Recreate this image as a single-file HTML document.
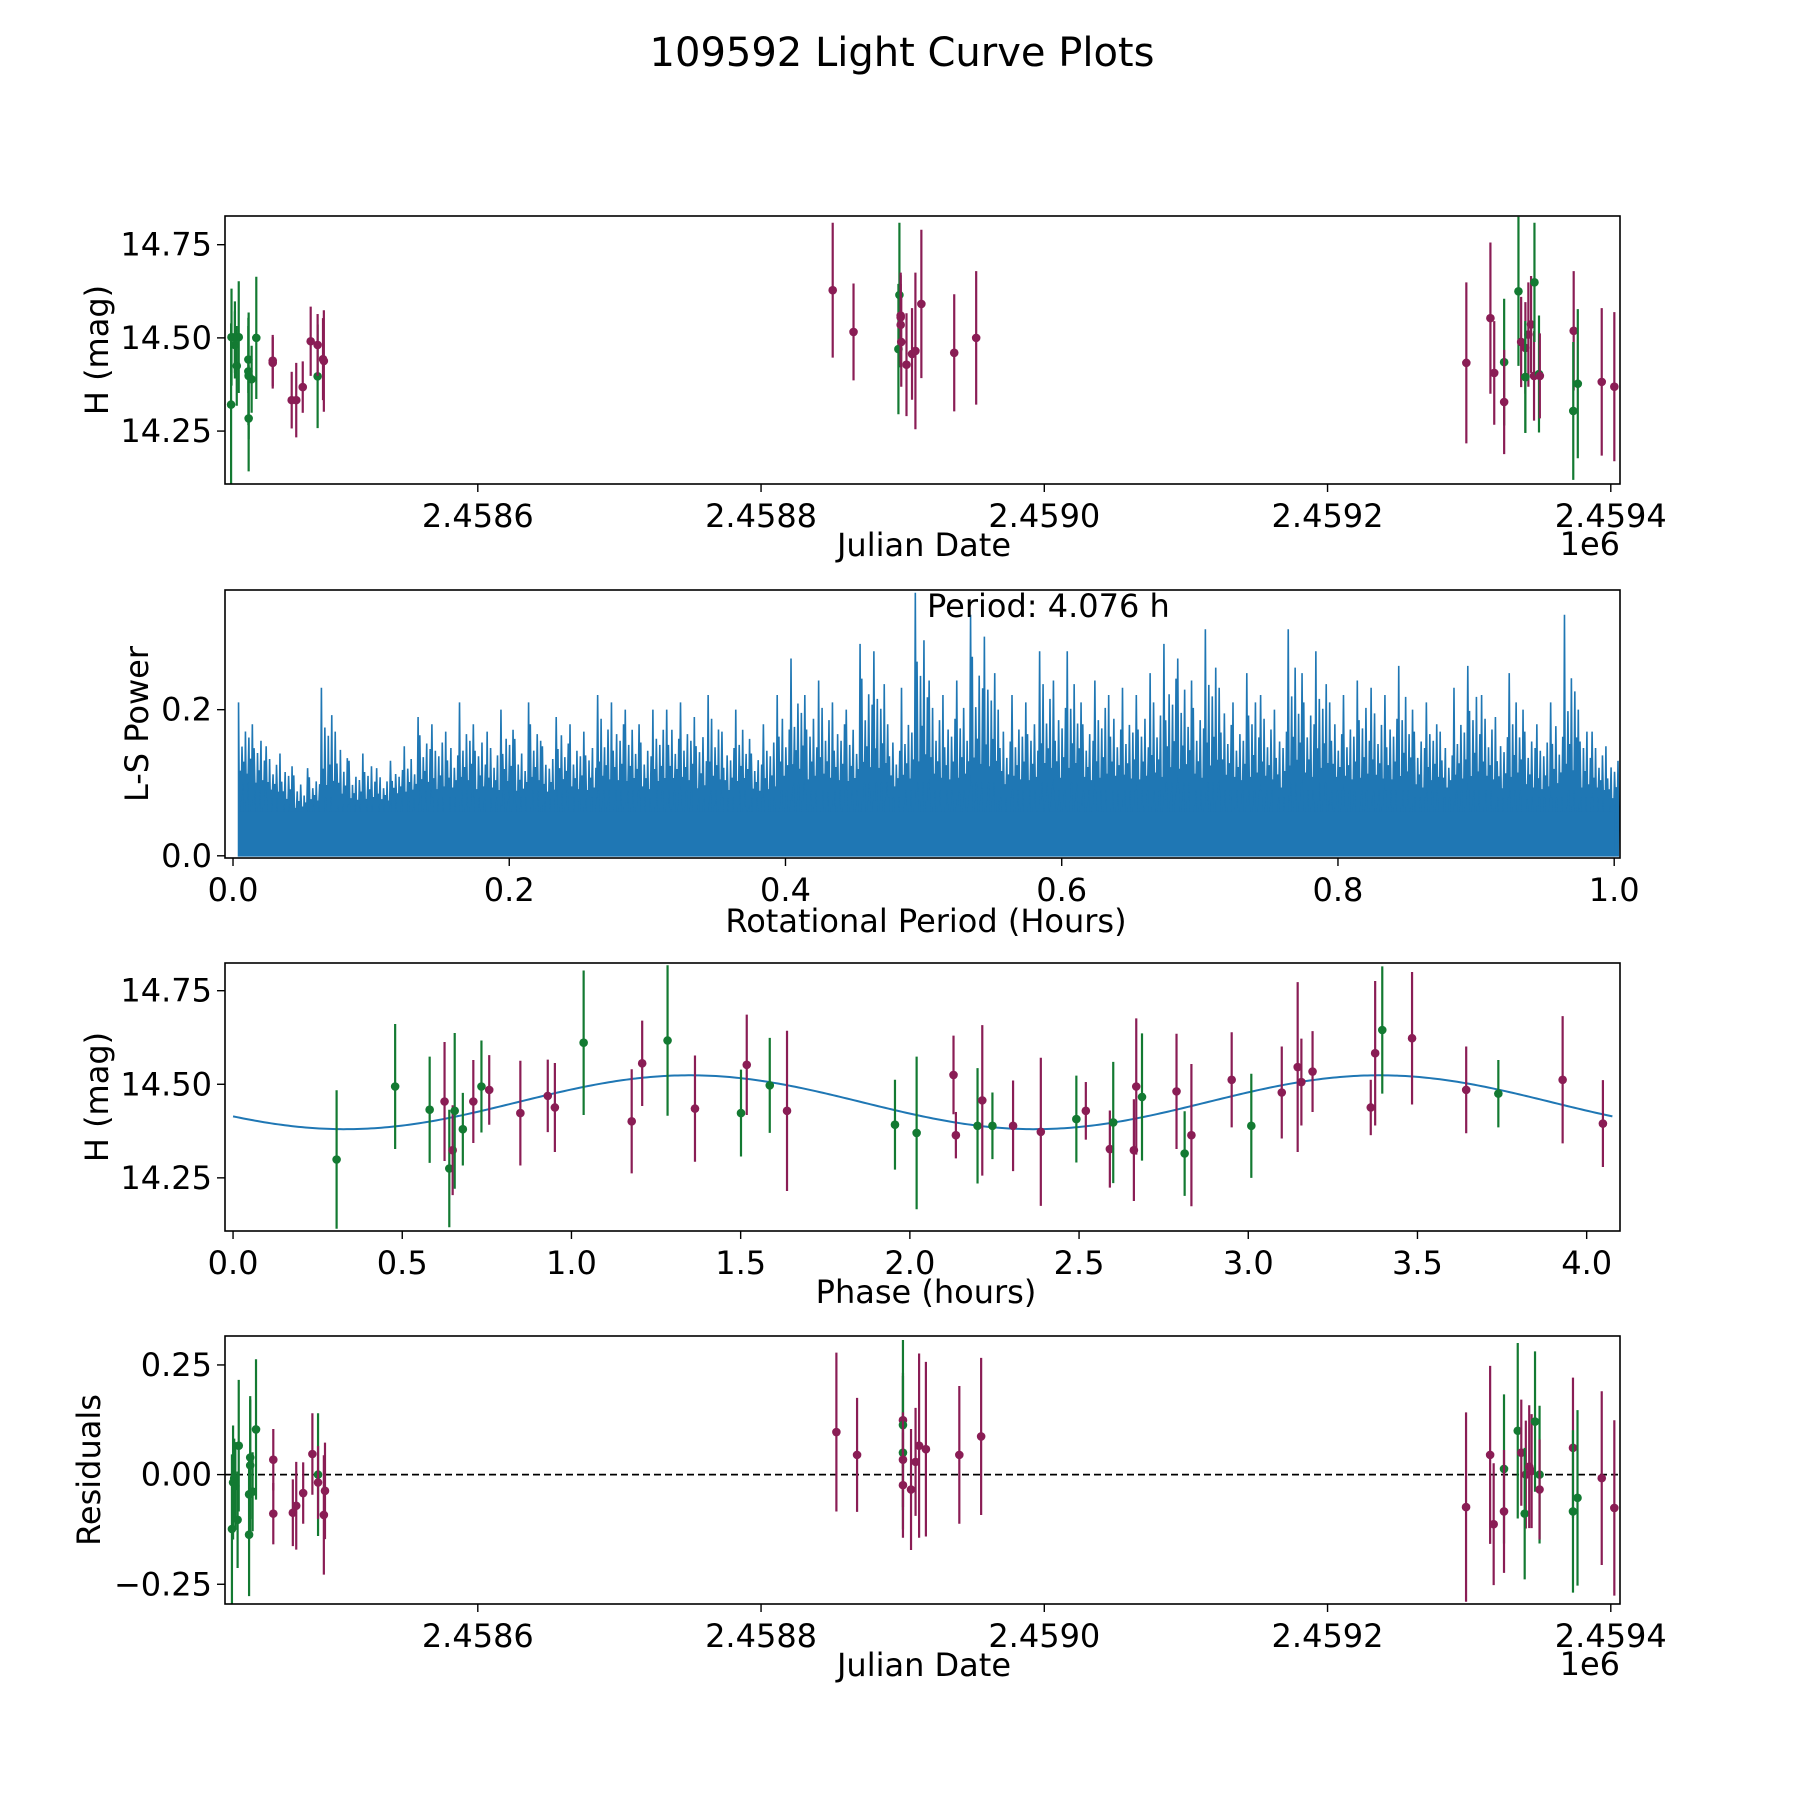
<!DOCTYPE html>
<html><head><meta charset="utf-8"><style>
html,body{margin:0;padding:0;background:#fff}
svg{display:block}
text{font-family:"DejaVu Sans","Liberation Sans",sans-serif;fill:#000}
</style></head><body>
<svg id="fig" xmlns="http://www.w3.org/2000/svg" width="1800" height="1800" viewBox="0 0 1800 1800">
<rect width="1800" height="1800" fill="#fff"/>
<text x="902" y="66" font-size="40" text-anchor="middle">109592 Light Curve Plots</text>
</svg>
<script>
// ---- Panel 1: light curve vs Julian date (offset from 2458600) ----
const p1Jd = [-174.2,-173.9,-171.5,-168.8,-170.2,-171.5,-162,-162,-161.8,-161.8,-159.7,-156.4,-113.1,
  -144.8,-144.8,-131.4,-128.2,-123.6,-118,-113.1,-109.3,-108.7,
  250.6,265.3,297.7,297,298.6,298.6,298.6,299,302.7,306.6,309,313.2,336.4,351.9,
  698,715,717.7,724.7,724.7,734.8,736.7,739.7,739.7,741.8,743.7,739.7,745.8,746.1,749.3,749.9,773.8,773.5,776.7,793.6,802.5];
const p1Mag = [14.321,14.502,14.502,14.502,14.425,14.481,14.442,14.41,14.398,14.284,14.389,14.50,14.397,
  14.439,14.433,14.333,14.333,14.368,14.491,14.481,14.443,14.438,
  14.628,14.516,14.615,14.470,14.560,14.555,14.535,14.489,14.428,14.457,14.465,14.591,14.460,14.50,
  14.433,14.553,14.406,14.435,14.328,14.625,14.489,14.473,14.395,14.509,14.536,14.395,14.398,14.649,14.403,14.398,14.519,14.304,14.377,14.382,14.369];
const p1Err = [0.218,0.13,0.096,0.15,0.107,0.09,0.09,0.144,0.17,0.142,0.09,0.164,0.139,
  0.069,0.069,0.076,0.10,0.069,0.093,0.083,0.11,0.136,
  0.181,0.130,0.194,0.175,0.108,0.12,0.11,0.12,0.138,0.123,0.21,0.199,0.157,0.179,
  0.216,0.203,0.139,0.17,0.14,0.2,0.121,0.123,0.15,0.14,0.13,0.15,0.12,0.16,0.157,0.114,0.16,0.185,0.2,0.198,0.2];
const p1Band = ['g','g','g','g','g','g','g','g','g','g','g','g','g',
  'r','r','r','r','r','r','r','r','r',
  'r','r','g','g','r','r','r','r','r','r','r','r','r','r',
  'r','r','r','g','r','g','r','r','g','r','r','g','r','g','g','r','r','g','g','r','r'];

// ---- Panel 2: periodogram envelope ----
const lsPeriodStart = 0.004, lsStep = 0.01;
const lsPeaks = [0.21,0.18,0.15,0.14,0.11,0.12,0.23,0.17,0.13,0.14,
  0.12,0.13,0.15,0.19,0.18,0.17,0.21,0.18,0.17,0.20,
  0.16,0.21,0.15,0.19,0.18,0.17,0.22,0.21,0.20,0.18,
  0.20,0.20,0.21,0.19,0.22,0.17,0.20,0.16,0.18,0.22,
  0.27,0.22,0.24,0.21,0.20,0.29,0.28,0.18,0.23,0.36,
  0.24,0.22,0.24,0.33,0.30,0.20,0.22,0.21,0.28,0.24,
  0.28,0.21,0.24,0.22,0.23,0.22,0.25,0.29,0.27,0.24,
  0.31,0.23,0.21,0.25,0.22,0.20,0.31,0.25,0.28,0.21,
  0.22,0.24,0.23,0.22,0.26,0.20,0.21,0.17,0.23,0.26,
  0.22,0.19,0.25,0.20,0.18,0.21,0.33,0.20,0.17,0.15];
const lsTroughs = [0.10,0.09,0.08,0.07,0.06,0.07,0.08,0.07,0.07,0.07,
  0.07,0.08,0.08,0.09,0.08,0.08,0.09,0.08,0.08,0.09,
  0.08,0.09,0.08,0.09,0.08,0.08,0.09,0.09,0.09,0.08,
  0.09,0.09,0.09,0.08,0.09,0.08,0.09,0.08,0.08,0.09,
  0.10,0.09,0.09,0.09,0.09,0.10,0.10,0.08,0.09,0.10,
  0.09,0.09,0.09,0.10,0.10,0.08,0.09,0.09,0.10,0.09,
  0.10,0.09,0.09,0.09,0.09,0.09,0.09,0.10,0.10,0.09,
  0.10,0.09,0.09,0.09,0.09,0.08,0.10,0.09,0.10,0.09,
  0.09,0.09,0.09,0.09,0.09,0.08,0.09,0.08,0.09,0.09,
  0.09,0.08,0.09,0.08,0.08,0.08,0.09,0.08,0.08,0.07];
const periodLabel = 'Period: 4.076 h';

// ---- Panel 3: phased light curve ----
const phPhase = [0.306,0.479,0.581,0.625,0.639,0.649,0.655,0.679,0.710,0.734,0.757,0.849,0.930,0.951,1.036,1.178,1.209,1.284,1.365,1.501,1.518,1.586,1.637,1.956,2.020,2.129,2.136,2.200,2.214,2.244,2.305,2.387,2.492,2.520,2.591,2.601,2.662,2.669,2.686,2.788,2.812,2.832,2.951,3.009,3.099,3.146,3.157,3.190,3.362,3.375,3.396,3.484,3.644,3.739,3.929,4.048];
const phMag = [14.299,14.494,14.432,14.454,14.275,14.324,14.429,14.380,14.454,14.494,14.485,14.423,14.469,14.438,14.611,14.401,14.556,14.617,14.435,14.423,14.552,14.497,14.429,14.392,14.370,14.525,14.364,14.389,14.457,14.389,14.389,14.373,14.407,14.429,14.327,14.398,14.324,14.494,14.466,14.481,14.315,14.364,14.512,14.389,14.478,14.546,14.506,14.534,14.438,14.583,14.645,14.623,14.485,14.475,14.512,14.395];
const phErr = [0.185,0.167,0.142,0.159,0.157,0.120,0.208,0.097,0.111,0.123,0.093,0.140,0.097,0.119,0.193,0.139,0.114,0.201,0.142,0.116,0.134,0.127,0.214,0.120,0.204,0.105,0.062,0.154,0.201,0.089,0.121,0.198,0.116,0.077,0.103,0.162,0.136,0.182,0.170,0.154,0.113,0.190,0.127,0.139,0.123,0.227,0.116,0.108,0.074,0.193,0.170,0.177,0.116,0.090,0.170,0.116];
const phBand = ['g','g','g','r','g','r','g','g','r','g','r','r','r','r','g','r','r','g','r','g','r','g','r','g','g','r','r','g','r','g','r','r','g','r','r','g','r','r','g','r','g','r','r','g','r','r','r','r','r','r','g','r','r','g','r','r'];
const modelMean = 14.452, modelAmp = 0.072, modelShift = 0.84, modelHalfPeriod = 2.038, modelEnd = 4.076;

// ---- Panel 4: residuals vs Julian date ----
const resJd = [-173.6,-172.8,-171.2,-168.8,-169.6,-161.5,-161.5,-160.7,-160.7,-159,-156.6,-172,
  -144.4,-144.4,-130.6,-128.2,-123.3,-116.8,-112.8,-112.8,-108.7,-107.9,
  253.2,267.8,300.2,300.2,300.2,300.2,300.2,305.9,309.1,311.6,316.4,340,355.4,
  697.8,714.8,717.3,724.6,724.6,734.3,736.8,740,739.2,742.4,744.1,746.5,749.7,749.7,773.3,773.3,776.5,793.6,802.5];
const resVal = [-0.124,-0.018,-0.026,0.066,-0.103,-0.045,-0.137,0.021,0.039,-0.039,0.103,-0.008,
  -0.089,0.034,-0.087,-0.071,-0.042,0.047,0.0,-0.018,-0.092,-0.037,
  0.097,0.045,0.124,0.113,0.05,0.034,-0.024,-0.034,0.029,0.066,0.058,0.045,0.087,
  -0.074,0.045,-0.113,0.013,-0.084,0.1,0.05,0.0,-0.089,0.018,0.008,0.121,0.0,-0.034,0.061,-0.084,-0.053,-0.008,-0.076];
const resErr = [0.17,0.13,0.10,0.15,0.11,0.09,0.14,0.15,0.14,0.09,0.16,0.09,
  0.07,0.07,0.076,0.10,0.07,0.093,0.14,0.083,0.136,0.11,
  0.181,0.13,0.108,0.194,0.175,0.108,0.12,0.138,0.123,0.21,0.199,0.157,0.179,
  0.216,0.203,0.139,0.17,0.14,0.2,0.121,0.123,0.15,0.14,0.13,0.16,0.157,0.114,0.16,0.185,0.2,0.198,0.2];
const resBand = ['g','g','g','g','g','g','g','g','g','g','g','g',
  'r','r','r','r','r','r','g','r','r','r',
  'r','r','r','g','g','r','r','r','r','r','r','r','r',
  'r','r','r','g','r','g','r','r','g','r','r','g','g','r','r','g','g','r','r'];

// ---- Tick definitions ----
const jdTicks = [0,200,400,600,800];
const jdTickLabels = ['2.4586','2.4588','2.4590','2.4592','2.4594'];
const magTicks = [14.25,14.5,14.75];
const magTickLabels = ['14.25','14.50','14.75'];
const lsXTicks = [0,0.2,0.4,0.6,0.8,1.0];
const lsXTickLabels = ['0.0','0.2','0.4','0.6','0.8','1.0'];
const lsYTicks = [0,0.2];
const lsYTickLabels = ['0.0','0.2'];
const phTicks = [0,0.5,1,1.5,2,2.5,3,3.5,4];
const phTickLabels = ['0.0','0.5','1.0','1.5','2.0','2.5','3.0','3.5','4.0'];
const resTicks = [-0.25,0,0.25];
const resTickLabels = ['\u22120.25','0.00','0.25'];

const NS = 'http://www.w3.org/2000/svg';
const svg = document.getElementById('fig');
const COL = {g:'#137a32', r:'#8a1d55'};
function mk(tag, attrs, parent){
  const e = document.createElementNS(NS, tag);
  for (const k in attrs) e.setAttribute(k, attrs[k]);
  (parent||svg).appendChild(e);
  return e;
}
function makePanel(name, box, xr, yr){
  const g = mk('g', {});
  
  
  const P = {g, box,
    sx: v => box.x0 + (v - xr[0]) / (xr[1]-xr[0]) * (box.x1-box.x0),
    sy: v => box.y1 - (v - yr[0]) / (yr[1]-yr[0]) * (box.y1-box.y0)};
  const cp = mk('clipPath', {id: name+'-clip'}, g);
  mk('rect', {x:box.x0, y:box.y0, width:box.x1-box.x0, height:box.y1-box.y0}, cp);
  P.plot = mk('g', {'clip-path':'url(#'+name+'-clip)'}, g);
  return P;
}
function frame(P){
  const b = P.box;
  const r = mk('rect', {x:b.x0, y:b.y0, width:b.x1-b.x0, height:b.y1-b.y0, fill:'none', stroke:'#000', 'stroke-width':1.6}, P.g);
  
  
}
function xTicks(P, vals, labels){
  const ax = mk('g', {}, P.g);
  
  
  vals.forEach((v,i)=>{
    const x = P.sx(v);
    mk('line', {x1:x, x2:x, y1:P.box.y1, y2:P.box.y1+8, stroke:'#000', 'stroke-width':1.4}, ax);
    const t = mk('text', {x:x, y:P.box.y1+43, 'font-size':32, 'text-anchor':'middle'}, ax);
    t.textContent = labels[i];
    
    
  });
}
function yTicks(P, vals, labels){
  const ax = mk('g', {}, P.g);
  
  
  vals.forEach((v,i)=>{
    const y = P.sy(v);
    mk('line', {x1:P.box.x0-8, x2:P.box.x0, y1:y, y2:y, stroke:'#000', 'stroke-width':1.4}, ax);
    const t = mk('text', {x:P.box.x0-13, y:y+11, 'font-size':32, 'text-anchor':'end'}, ax);
    t.textContent = labels[i];
    
    
  });
}
function label(P, txt, x, y, rot, nm){
  const t = mk('text', {x:x, y:y, 'font-size':32, 'text-anchor':'middle'}, P.g);
  if (rot) t.setAttribute('transform', 'rotate(-90 '+x+' '+y+')');
  t.textContent = txt;
  
  
}
function errPoints(P, xs, ys, es, bands){
  for (let i=0;i<xs.length;i++){
    const c = COL[bands[i]], x = P.sx(xs[i]);
    const l = mk('line', {x1:x, x2:x, y1:P.sy(ys[i]-es[i]), y2:P.sy(ys[i]+es[i]), stroke:c, 'stroke-width':2.2}, P.plot);
    
    
    const d = mk('circle', {cx:x, cy:P.sy(ys[i]), r:4.3, fill:c}, P.plot);
    
    
  }
}

const X0 = 225, X1 = 1620;
const jdRange = [-178.5, 806.5];

// Panel 1
const P1 = makePanel('light-curve-panel', {x0:X0,x1:X1,y0:216,y1:484}, jdRange, [14.108,14.827]);
errPoints(P1, p1Jd, p1Mag, p1Err, p1Band);
frame(P1); xTicks(P1, jdTicks, jdTickLabels); yTicks(P1, magTicks, magTickLabels);
label(P1, 'Julian Date', 924, 556, false, 'x-axis-title');
label(P1, 'H (mag)', 108, 350, true, 'y-axis-title');
const off1 = mk('text', {x:X1, y:555, 'font-size':32, 'text-anchor':'end'}, P1.g);
off1.textContent = '1e6';



// Panel 2
const P2 = makePanel('periodogram-panel', {x0:X0,x1:X1,y0:590,y1:858}, [-0.0058,1.0042], [-0.003,0.3638]);
const subShape = [1.0, 0.35, 0.75, 0.2, 0.85, 0.4, 0.6, 0.15];
let d = 'M'+P2.sx(lsPeriodStart)+' '+P2.sy(0);
for (let i=0;i<lsPeaks.length;i++){
  const p = lsPeriodStart + i*lsStep;
  const rng = lsPeaks[i] - lsTroughs[i];
  for (let k=0;k<subShape.length;k++){
    const pk = p + k*lsStep/subShape.length;
    const f = (k===0) ? 1.0 : subShape[(k*3+i)%subShape.length]*0.75;
    d += ' L'+P2.sx(pk)+' '+P2.sy(lsTroughs[i]+rng*f)+' L'+P2.sx(pk+lsStep/subShape.length*0.5)+' '+P2.sy(lsTroughs[i]*(0.5+0.5*((k+i)%3)/2));
  }
}
d += ' L'+P2.sx(lsPeriodStart+(lsPeaks.length-1)*lsStep+lsStep*0.9)+' '+P2.sy(0)+' Z';
const ls = mk('path', {d:d, fill:'#1f77b4', stroke:'#1f77b4', 'stroke-width':1.6, 'stroke-linejoin':'miter'}, P2.plot);


const base = mk('rect', {x:P2.sx(lsPeriodStart), y:P2.sy(0.06), width:P2.sx(1.0)-P2.sx(lsPeriodStart), height:P2.sy(0)-P2.sy(0.06), fill:'#1f77b4'}, P2.plot);


frame(P2); xTicks(P2, lsXTicks, lsXTickLabels); yTicks(P2, lsYTicks, lsYTickLabels);
label(P2, 'Rotational Period (Hours)', 926, 932, false, 'x-axis-title');
label(P2, 'L-S Power', 148, 724, true, 'y-axis-title');
const pt = mk('text', {x:927, y:617, 'font-size':32}, P2.g);
pt.textContent = periodLabel;



// Panel 3
const P3 = makePanel('phase-panel', {x0:X0,x1:X1,y0:963,y1:1231}, [-0.0238,4.0985], [14.108,14.824]);
let md = '';
for (let k=0;k<=400;k++){
  const ph = modelEnd*k/400;
  const m = modelMean + modelAmp*Math.sin(2*Math.PI*(ph-modelShift)/modelHalfPeriod);
  md += (k?' L':'M')+P3.sx(ph)+' '+P3.sy(m);
}
const mc = mk('path', {d:md, fill:'none', stroke:'#1f77b4', 'stroke-width':2}, P3.plot);


errPoints(P3, phPhase, phMag, phErr, phBand);
frame(P3); xTicks(P3, phTicks, phTickLabels); yTicks(P3, magTicks, magTickLabels);
label(P3, 'Phase (hours)', 926, 1303, false, 'x-axis-title');
label(P3, 'H (mag)', 108, 1097, true, 'y-axis-title');

// Panel 4
const P4 = makePanel('residuals-panel', {x0:X0,x1:X1,y0:1336,y1:1604}, jdRange, [-0.295,0.316]);
const zl = mk('line', {x1:X0, x2:X1, y1:P4.sy(0), y2:P4.sy(0), stroke:'#000', 'stroke-width':1.7, 'stroke-dasharray':'7,4'}, P4.plot);


errPoints(P4, resJd, resVal, resErr, resBand);
frame(P4); xTicks(P4, jdTicks, jdTickLabels); yTicks(P4, resTicks, resTickLabels);
label(P4, 'Julian Date', 924, 1676, false, 'x-axis-title');
label(P4, 'Residuals', 100, 1470, true, 'y-axis-title');
const off4 = mk('text', {x:X1, y:1675, 'font-size':32, 'text-anchor':'end'}, P4.g);
off4.textContent = '1e6';


</script>
</body></html>
